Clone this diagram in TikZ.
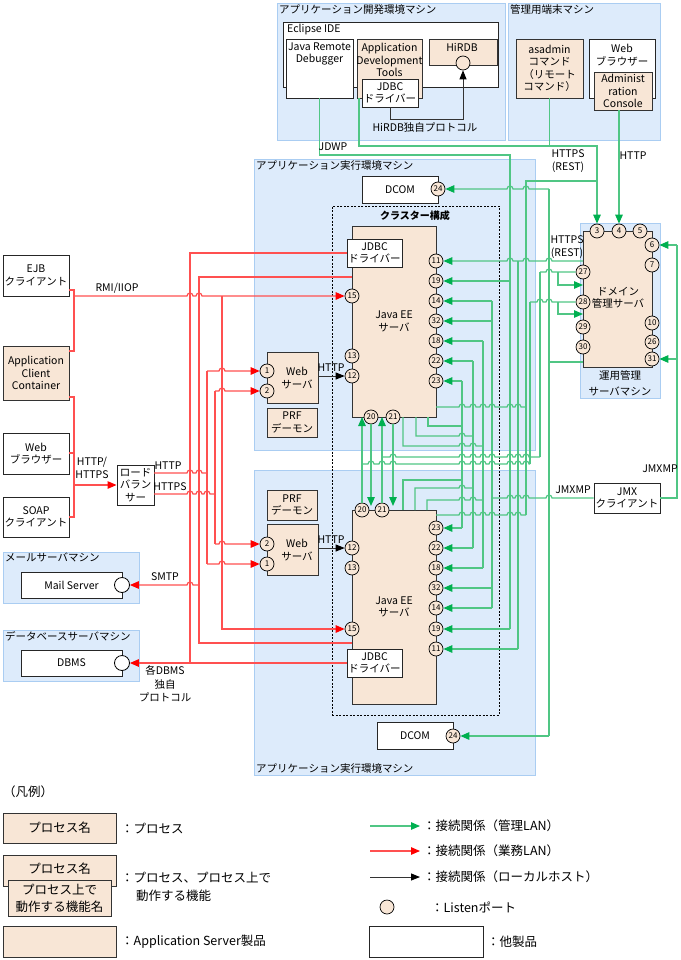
\documentclass[tikz,border=0pt]{standalone}
\usepackage{fontspec}
\setmainfont{Noto Sans CJK JP}
\usetikzlibrary{arrows.meta}
\definecolor{machfill}{RGB}{221,235,251}
\definecolor{machdraw}{RGB}{170,205,242}
\definecolor{procfill}{RGB}{248,230,214}
\definecolor{gline}{RGB}{80,198,132}
\definecolor{ghead}{RGB}{0,176,80}
\definecolor{rline}{RGB}{255,80,80}
\definecolor{rhead}{RGB}{255,0,0}
\newcommand{\bx}[7]{\node[#1, minimum width={#5-#3}, minimum height={#6-#4}] (#2) at ({(#3+#5)/2},{(#4+#6)/2}) {#7};}
\newcommand{\prt}[4]{\node[port] (#1) at (#2,#3) {#4};}
\newcommand{\hj}[5]{\draw[#1] #2 foreach \jx in {#4} { -- ({\jx-3},#3) arc[start angle=180,end angle=360,radius=3] } -- #5;}
\tikzset{
  mach/.style={fill=machfill, draw=machdraw, line width=0.8pt},
  procbox/.style={fill=procfill, draw=black!80, line width=0.9pt, inner sep=0pt, align=center},
  otherbox/.style={fill=white, draw=black!85, line width=0.9pt, inner sep=0pt, align=center},
  clusterbox/.style={draw=black, line width=0.9pt, dash pattern=on 2pt off 1.5pt},
  txt/.style={inner sep=0pt, align=center},
  port/.style={circle, fill=procfill, draw=black, line width=0.7pt, minimum size=14pt, inner sep=0pt, font=\fontsize{8}{8}\selectfont},
  wport/.style={circle, fill=white, draw=black, line width=0.8pt, minimum size=15pt, inner sep=0pt},
  gw/.style={draw=gline, line width=1.2pt},
  rw/.style={draw=rline, line width=1.2pt},
  kw/.style={draw=black!80, line width=1pt},
  ga/.style={gw, -{Triangle[length=9pt,width=7.5pt,color=ghead]}},
  gar/.style={gw, {Triangle[length=9pt,width=7.5pt,color=ghead]}-},
  ra/.style={rw, -{Triangle[length=9pt,width=7.5pt,color=rhead]}},
  rar/.style={rw, {Triangle[length=9pt,width=7.5pt,color=rhead]}-},
  ka/.style={kw, -{Triangle[length=9pt,width=7pt,color=black]}},
  legfont/.style={font=\fontsize{12.5}{16}\selectfont},
  leg/.style={inner sep=0pt, anchor=west, legfont},
}
\begin{document}
\begin{tikzpicture}[x=1pt,y=-1pt, font=\fontsize{10.5}{12.5}\selectfont]
\useasboundingbox (0,0) rectangle (680,960);

% ---------- machines ----------
\bx{mach}{devm}{277}{3}{505}{140}{}
\node[txt,anchor=north west] (lblDev) at (279,4) {アプリケーション開発環境マシン};
\bx{mach}{termm}{508}{3}{660}{140}{}
\node[txt,anchor=north west] (lblTerm) at (510,4) {管理用端末マシン};
\bx{mach}{execA}{254}{159}{535}{450}{}
\node[txt,anchor=north west] (lblExecA) at (256,160) {アプリケーション実行環境マシン};
\bx{mach}{execB}{254}{470}{535}{775}{}
\node[txt,anchor=south west] (lblExecB) at (256,774) {アプリケーション実行環境マシン};
\bx{mach}{opsm}{580}{223}{660}{398}{}
\node[txt,font=\fontsize{10.5}{16}\selectfont] (lblOps) at (620,383) {運用管理\\サーバマシン};
\bx{mach}{mailm}{3}{552}{139}{603}{}
\node[txt,anchor=north west] (lblMail) at (5,553) {メールサーバマシン};
\bx{mach}{dbm}{3}{630}{139}{681}{}
\node[txt,anchor=north west] (lblDB) at (5,631) {データベースサーバマシン};
\bx{clusterbox}{cluster}{332}{206}{499}{715}{}
\node[txt,font=\bfseries] (lblCluster) at (415,216) {クラスター構成};

% ---------- development machine ----------
\bx{otherbox}{eclipse}{283}{22}{498}{87}{}
\node[txt,anchor=west] (eclipseL) at (287,30) {Eclipse IDE};
\bx{otherbox}{jrd}{286}{39}{353}{98}{}
\node[txt] (jrdL) at (319.5,54) {Java Remote\\Debugger};
\bx{procbox}{adt}{357}{39}{422}{98}{}
\node[txt] (adtL) at (389.5,60) {Application\\Development\\Tools};
\bx{otherbox}{jdbcD}{362}{79}{418}{107}{JDBC\\ドライバー}
\bx{procbox}{hirdb}{429}{39}{497}{65}{}
\node[txt] (hirdbL) at (462,47) {HiRDB};
\node[port] (hport) at (463,63) {};
\draw[ka] (jdbcD.south) -- ++(0,12) -| (hport.south);
\node[txt] (hirdbP) at (425,128) {HiRDB独自プロトコル};

% ---------- terminal machine ----------
\bx{procbox}{asadmin}{516}{39}{583}{98}{asadmin\\コマンド\\（リモート\\コマンド）}
\bx{otherbox}{webT}{589}{39}{655}{98}{}
\node[txt] (webTL) at (622,55) {Web\\ブラウザー};
\bx{procbox}{admcons}{594}{72}{652}{110}{Administ\\ration\\Console}

% ---------- execution machine A ----------
\bx{otherbox}{dcomA}{362}{176}{438}{203}{DCOM}
\bx{procbox}{jeeA}{352}{226}{436}{417}{Java EE\\サーバ}
\bx{otherbox}{jdbcA}{347}{239}{402}{267}{JDBC\\ドライバー}
\bx{procbox}{webA}{267}{352}{318}{403}{}
\node[txt] (webAL) at (297,378) {Web\\サーバ};
\bx{procbox}{prfA}{267}{408}{317}{437}{PRF\\デーモン}

% ---------- execution machine B ----------
\bx{procbox}{prfB}{267}{490}{317}{520}{PRF\\デーモン}
\bx{procbox}{webB}{267}{524}{318}{575}{}
\node[txt] (webBL) at (297,550) {Web\\サーバ};
\bx{procbox}{jeeB}{352}{510}{436}{704}{Java EE\\サーバ}
\bx{otherbox}{jdbcB}{347}{649}{402}{677}{JDBC\\ドライバー}
\bx{otherbox}{dcomB}{377}{722}{453}{749}{DCOM}

% ---------- ops machine ----------
\bx{procbox}{dom}{583}{231}{652}{367}{}
\node[txt] (domL) at (618,298) {ドメイン\\管理サーバ};
\bx{otherbox}{jmx}{594}{483}{660}{513}{JMX\\クライアント}

% ---------- left clients ----------
\bx{otherbox}{ejb}{3}{255}{69}{296}{EJB\\クライアント}
\bx{procbox}{acc}{3}{346}{69}{400}{Application\\Client\\Container}
\bx{otherbox}{webC}{3}{433}{69}{474}{Web\\ブラウザー}
\bx{otherbox}{soap}{3}{497}{69}{537}{SOAP\\クライアント}
\bx{otherbox}{lb}{117}{465}{154}{505}{ロード\\バラン\\サー}
\bx{otherbox}{mail}{21}{572}{122}{598}{Mail Server}
\node[wport] (mailport) at (122,585) {};
\bx{otherbox}{dbms}{21}{650}{122}{676}{DBMS}
\node[wport] (dbport) at (122,663) {};

% ---------- ports ----------
\prt{pA24}{438}{189}{24}
\prt{pA11}{436}{261}{11}
\prt{pA19}{436}{281}{19}
\prt{pA14}{436}{301}{14}
\prt{pA32}{436}{321}{32}
\prt{pA18}{436}{341}{18}
\prt{pA22}{436}{361}{22}
\prt{pA23}{436}{381}{23}
\prt{pA15}{352}{296}{15}
\prt{pA13}{352}{356}{13}
\prt{pA12}{352}{376}{12}
\prt{pA20}{371}{417}{20}
\prt{pA21}{393}{417}{21}
\prt{pA1}{267}{371}{1}
\prt{pA2}{267}{391}{2}
\prt{pB2}{267}{544}{2}
\prt{pB1}{267}{564}{1}
\prt{pB20}{362}{510}{20}
\prt{pB21}{382}{510}{21}
\prt{pB12}{352}{548}{12}
\prt{pB13}{352}{568}{13}
\prt{pB15}{352}{629}{15}
\prt{pB23}{436}{528}{23}
\prt{pB22}{436}{548}{22}
\prt{pB18}{436}{568}{18}
\prt{pB32}{436}{588}{32}
\prt{pB14}{436}{608}{14}
\prt{pB19}{436}{629}{19}
\prt{pB11}{436}{649}{11}
\prt{pB24}{453}{736}{24}
\prt{pD3}{597}{231}{3}
\prt{pD4}{619}{231}{4}
\prt{pD5}{640}{231}{5}
\prt{pD6}{652}{245}{6}
\prt{pD7}{652}{265}{7}
\prt{pD10}{652}{323}{10}
\prt{pD26}{652}{342}{26}
\prt{pD31}{652}{359}{31}
\prt{pD27}{583}{272}{27}
\prt{pD28}{583}{302}{28}
\prt{pD29}{583}{327}{29}
\prt{pD30}{583}{347}{30}

% ---------- black (localhost) ----------
\draw[ka] (318,376) -- (pA12.west);
\node[txt] (httpA) at (331,368) {HTTP};
\draw[ka] (318,548) -- (pB12.west);
\node[txt] (httpB) at (331,540) {HTTP};

% ---------- red (business LAN) ----------
\draw[rw] (69,290) -- (74,290) -- (74,351) -- (69,351);
\hj{ra}{(74,296)}{296}{190,199}{(pA15.west)}
\node[txt] (rmi) at (117,288) {RMI/IIOP};
\draw[ra] (222,296) -- (222,629) -- (pB15.west);
\draw[rw] (69,397) -- (74,397) -- (74,517) -- (69,517);
\draw[rw] (69,453) -- (74,453);
\draw[ra] (74,485) -- (lb.west);
\node[txt] (httphttps) at (92,468) {HTTP/\\HTTPS};
\hj{rw}{(154,473)}{473}{190,199}{(207,473)}
\node[txt] (lbhttp) at (168,466) {HTTP};
\hj{rw}{(154,494)}{494}{190,199,207}{(215,494)}
\node[txt] (lbhttps) at (170,487) {HTTPS};
\draw[rw] (207,371) -- (207,564);
\draw[rw] (215,391) -- (215,544);
\hj{ra}{(207,371)}{371}{222}{(pA1.west)}
\hj{ra}{(215,391)}{391}{222}{(pA2.west)}
\hj{ra}{(215,544)}{544}{222}{(pB2.west)}
\hj{ra}{(207,564)}{564}{222}{(pB1.west)}
\draw[rw] (jdbcA.west) -- (190,253) -- (190,663);
\draw[ra] (jdbcB.west) -- (dbport.east);
\node[txt,font=\fontsize{10.5}{13.5}\selectfont] (dbproto) at (165,684) {各DBMS\\独自\\プロトコル};
\draw[rw] (352,277) -- (199,277) -- (199,643) -- (352,643);
\hj{rar}{(mailport.east)}{585}{190}{(199,585)}
\node[txt] (smtp) at (165,577) {SMTP};

% ---------- green (management LAN) ----------
\draw[ga] (359,98) -- (359,146) -| (pD3.north);
\draw[gw] (asadmin.south) -- ++(0,48);
\node[txt] (httpsT) at (568,161) {HTTPS\\(REST)};
\draw[ga] (pD4 |- admcons.south) -- (pD4.north);
\node[txt] (httpT) at (633,156) {HTTP};
\draw[gw] (jrd.south) -- (319.5,155) -- (510,155) -- (510,629);
\node[txt] (jdwp) at (333,147) {JDWP};
\draw[ga] (510,281) -- (pA19.east);
\draw[ga] (510,629) -- (pB19.east);
\hj{gar}{(pA24.east)}{189}{510,526}{(549,189)}
\draw[gw] (549,189) -- (549,736);
\draw[ga] (549,736) -- (pB24.east);
\draw[gw] (549,362) -- (583,362);
\draw[gw] (526,515) -- (526,181) -- (597,181);
\hj{gw}{(436,407)}{407}{462,473,483,492,510,518}{(526,407)}
\hj{gw}{(436,515)}{515}{462,473,483,492,510,518}{(526,515)}
\hj{gar}{(pA11.east)}{261}{510,526,549}{(583,261)}
\node[txt] (httpsR) at (567,247) {HTTPS\\(REST)};
\draw[gw] (518,261) -- (518,649);
\draw[ga] (518,649) -- (pB11.east);
\draw[gw] (492,301) -- (492,608);
\draw[ga] (492,301) -- (pA14.east);
\draw[ga] (492,321) -- (pA32.east);
\draw[ga] (492,588) -- (pB32.east);
\draw[ga] (492,608) -- (pB14.east);
\hj{gw}{(492,498)}{498}{510,518,526,549}{(jmx.west)}
\node[txt] (jmxmp1) at (573,490) {JMXMP};
\draw[gw] (jmx.east) -- (677,498) -- (677,245);
\draw[ga] (677,245) -- (pD6.east);
\draw[ga] (677,359) -- (pD31.east);
\node[txt] (jmxmp2) at (660,469) {JMXMP};
\draw[gw] (462,381) -- (462,528);
\draw[ga] (462,381) -- (pA23.east);
\draw[ga] (462,528) -- (pB23.east);
\draw[gw] (473,361) -- (473,548);
\draw[ga] (473,361) -- (pA22.east);
\draw[ga] (473,548) -- (pB22.east);
\draw[gw] (483,341) -- (483,568);
\draw[ga] (483,341) -- (pA18.east);
\draw[ga] (483,568) -- (pB18.east);
\draw[gw] (428,417) -- (428,426) -- (462,426);
\hj{gw}{(416,417) -- (416,436)}{436}{462}{(473,436)}
\hj{gw}{(403,417) -- (403,446)}{446}{462,473}{(483,446)}
\draw[gw] (403,510) -- (403,480) -- (462,480);
\hj{gw}{(415,510) -- (415,488)}{488}{462}{(473,488)}
\hj{gw}{(427,510) -- (427,500)}{500}{462,473}{(483,500)}
\draw[ga] (pB20.north) -- (362,417);
\draw[ga] (pA20.south) -- (371,506);
\draw[ga] (pB21.north) -- (382,417);
\draw[ga] (pA21.south) -- (393,506);
\hj{gw}{(382,457)}{457}{393,462,473,483,492,510,518,526}{(540,457)}
\draw[gw] (540,457) -- (540,272);
\hj{gw}{(540,272)}{272}{549}{(pD27.west)}
\draw[ga] (558,272) -- (558,285) -- (583,285);
\hj{gw}{(362,464)}{464}{371,382,393,462,473,483,492,510,518,526}{(530,464)}
\draw[gw] (530,464) -- (530,302);
\hj{gw}{(530,302)}{302}{540,549}{(pD28.west)}
\draw[ga] (558,302) -- (558,314) -- (583,314);

% ---------- legend ----------
\node[leg] (lgTitle) at (3,792) {（凡例）};
\bx{procbox,legfont}{lg1}{3}{813}{116}{843}{プロセス名}
\node[leg] (lg1t) at (121,829) {：プロセス};
\bx{procbox}{lg2}{3}{855}{116}{886}{}
\node[txt,legfont] (lg2L) at (59.5,869) {プロセス名};
\bx{procbox,font=\fontsize{12.5}{17}\selectfont}{lg2b}{8}{880}{111}{916}{プロセス上で\\動作する機能名}
\node[leg] (lg2t) at (121,878) {：プロセス、プロセス上で};
\node[leg] (lg2u) at (136,896) {動作する機能};
\bx{procbox}{lg3}{3}{926}{116}{957}{}
\node[leg] (lg3t) at (121,942) {：Application Server製品};
\coordinate (lgA1) at (370,826);
\coordinate (lgA2) at (420,826);
\draw[ga] (lgA1) -- (lgA2);
\node[leg] (lgAt) at (423,826) {：接続関係（管理LAN）};
\coordinate (lgB1) at (370,851);
\coordinate (lgB2) at (420,851);
\draw[ra] (lgB1) -- (lgB2);
\node[leg] (lgBt) at (423,851) {：接続関係（業務LAN）};
\coordinate (lgC1) at (370,877);
\coordinate (lgC2) at (420,877);
\draw[ka] (lgC1) -- (lgC2);
\node[leg] (lgCt) at (423,877) {：接続関係（ローカルホスト）};
\node[port] (lgPort) at (387,907) {};
\node[leg] (lgPt) at (431,907) {：Listenポート};
\bx{otherbox}{lg5}{369}{926}{483}{957}{}
\node[leg] (lg5t) at (487,942) {：他製品};
\end{tikzpicture}
\end{document}
